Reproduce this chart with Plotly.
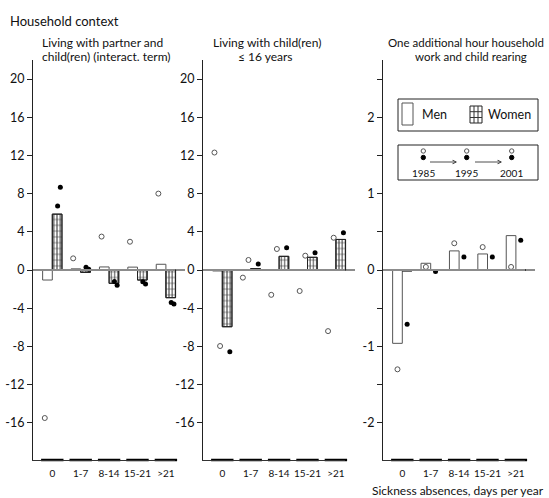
import plotly.graph_objects as go

W, H = 549, 498


def fx(p):
    return p / W


def fy(p):
    return 1 - p / H


# ---------------- data ----------------
categories = ["0", "1-7", "8-14", "15-21", ">21"]

# Panel 1: living with partner and child(ren) (interaction term)
p1_men = [-1.05, 0.12, 0.32, 0.30, 0.60]
p1_women = [5.85, -0.25, -1.40, -1.05, -2.90]
p1_open_a = [-15.5, 1.22, 3.50, 2.96, 8.00]
p1_filled_a = [6.70, 0.28, -1.20, -1.22, -3.40]
p1_filled_b = [8.66, 0.07, -1.60, -1.47, -3.55]

# Panel 2: living with child(ren) <= 16 years
p2_men = [-0.10, 0.03, 0.03, 0.03, 0.05]
p2_women = [-5.94, 0.15, 1.43, 1.33, 3.20]
p2_open_a = [12.3, -0.80, -2.60, -2.20, -6.40]
p2_open_b = [-7.96, 1.05, 2.20, 1.50, 3.38]
p2_filled = [-8.55, 0.63, 2.33, 1.80, 3.90]

# Panel 3: one additional hour household work and child rearing
p3_men = [-0.96, 0.088, 0.25, 0.21, 0.45]
p3_women = [-0.012, 0.0, 0.0, 0.0, 0.0]
p3_open = [-1.30, 0.04, 0.35, 0.30, 0.04]
p3_filled = [-0.71, -0.02, 0.17, 0.17, 0.39]

big_ticks = [-16, -12, -8, -4, 0, 4, 8, 12, 16, 20]
small_ticks = [-2, -1.5, -1, -0.5, 0, 0.5, 1, 1.5, 2, 2.5]
years = ["1985", "1995", "2001"]

# ---------------- layout geometry ----------------
FONT = "Lato"
axis_px = [33, 203, 383]
PANEL_W = 152
BOTTOM_W = 142
Y_TOP, Y_BOT, Y_ZERO = 60, 460, 270
CAT_PX = 28.4
FIRST_PX = 19.3
BARW = 0.34

x_lo = -FIRST_PX / CAT_PX
x_hi = (PANEL_W - FIRST_PX) / CAT_PX
x2_hi = (BOTTOM_W - FIRST_PX) / CAT_PX


def yrange(px_per_unit):
    return [(Y_ZERO - Y_BOT) / px_per_unit, (Y_ZERO - Y_TOP) / px_per_unit]


panels = [
    dict(men=p1_men, women=p1_women, pxu=9.55, ticks=big_ticks,
         pts=[(p1_open_a, "open", -0.265), (p1_filled_a, "fill", 0.187),
              (p1_filled_b, "fill", 0.283)]),
    dict(men=p2_men, women=p2_women, pxu=9.55, ticks=big_ticks,
         pts=[(p2_open_a, "open", -0.276), (p2_open_b, "open", -0.078),
              (p2_filled, "fill", 0.265)]),
    dict(men=p3_men, women=p3_women, pxu=76.4, ticks=small_ticks,
         pts=[(p3_open, "open", -0.17), (p3_filled, "fill", 0.17)]),
]

fig = go.Figure()
layout = dict(
    width=W, height=H, margin=dict(l=0, r=0, t=0, b=0),
    paper_bgcolor="white", plot_bgcolor="rgba(0,0,0,0)",
    barmode="overlay", showlegend=False,
    font=dict(family=FONT, size=12, color="#111"),
)

xs = list(range(len(categories)))
for k, P in enumerate(panels):
    n = k + 1
    nb = k + 4
    xa = "x" if n == 1 else f"x{n}"
    ya = "y" if n == 1 else f"y{n}"
    xb = f"x{nb}"
    yr = yrange(P["pxu"])

    # Men bars
    fig.add_trace(go.Bar(
        x=xs, y=P["men"], offset=-BARW, width=BARW, xaxis=xa, yaxis=ya,
        marker=dict(color="white", line=dict(color="#555555", width=1)),
    ))
    # Women bars: vertical hatch + horizontal hatch = grid
    fig.add_trace(go.Bar(
        x=xs, y=P["women"], offset=0, width=BARW, xaxis=xa, yaxis=ya,
        marker=dict(color="white", line=dict(color="#222222", width=1),
                    pattern=dict(shape="|", size=3.2, solidity=0.3,
                                 fgcolor="#333333", bgcolor="white",
                                 fillmode="replace")),
    ))
    fig.add_trace(go.Bar(
        x=xs, y=P["women"], offset=0, width=BARW, xaxis=xa, yaxis=ya,
        marker=dict(color="rgba(0,0,0,0)", line=dict(color="#222222", width=1),
                    pattern=dict(shape="-", size=5.8, solidity=0.18,
                                 fgcolor="#333333", fillmode="overlay")),
    ))
    # points
    for vals, kind, off in P["pts"]:
        if kind == "open":
            mk = dict(symbol="circle-open", size=5, color="#555555",
                      line=dict(width=1, color="#555555"))
        else:
            mk = dict(symbol="circle", size=5, color="black")
        fig.add_trace(go.Scatter(
            x=[i + off for i in xs], y=vals, mode="markers", marker=mk,
            xaxis=xa, yaxis=ya,
        ))
    # bottom category segments
    fig.add_trace(go.Scatter(
        x=xs, y=[yr[0]] * len(xs), mode="markers", xaxis=xb, yaxis=ya,
        marker=dict(symbol="line-ew", size=16,
                    line=dict(width=2.5, color="black")),
        cliponaxis=False,
    ))

    ticktext = []
    for t in P["ticks"]:
        if float(t).is_integer():
            ticktext.append(str(int(t)))
        else:
            ticktext.append("")

    layout["xaxis" if n == 1 else f"xaxis{n}"] = dict(
        domain=[fx(axis_px[k]), fx(axis_px[k] + PANEL_W)],
        range=[x_lo, x_hi], anchor=ya, visible=False, fixedrange=True,
    )
    layout[f"xaxis{nb}"] = dict(
        domain=[fx(axis_px[k]), fx(axis_px[k] + BOTTOM_W)],
        range=[x_lo, x2_hi], anchor=ya, showline=True, linecolor="#333333",
        linewidth=1, showgrid=False, zeroline=False,
        tickvals=xs, ticktext=categories, ticks="outside", ticklen=4,
        tickcolor="rgba(0,0,0,0)", tickfont=dict(size=10, color="#111"),
        fixedrange=True,
    )
    layout["yaxis" if n == 1 else f"yaxis{n}"] = dict(
        domain=[fy(Y_BOT), fy(Y_TOP)], range=yr, anchor=xa,
        showline=True, linecolor="#222222", linewidth=1,
        ticks="outside", ticklen=5, tickwidth=1, tickcolor="#222222",
        tickvals=P["ticks"], ticktext=ticktext,
        tickfont=dict(size=12.5, color="#111"),
        showgrid=False, zeroline=True, zerolinecolor="#8c8c8c",
        zerolinewidth=1.5, fixedrange=True,
    )

fig.update_layout(**layout)

# ---------------- texts ----------------
ann = []


def text(x, y, s, size=12, xanchor="center", yanchor="middle"):
    ann.append(dict(x=fx(x), y=fy(y), xref="paper", yref="paper", text=s,
                    showarrow=False, xanchor=xanchor, yanchor=yanchor,
                    font=dict(size=size, family=FONT, color="#111")))


text(8, 21, "Household context", size=13, xanchor="left")
text(102, 43, "Living with partner and")
text(106, 57, "child(ren) (interact. term)")
text(267, 43, "Living with child(ren)")
text(265, 57, "≤ 16 years")
text(466, 43, "One additional hour household", size=11.5)
text(471, 57, "work and child rearing", size=11.5)
text(546, 490, "Sickness absences, days per year", xanchor="right")

# legend box 1
shapes = []
LINE = dict(color="#222222", width=1)
shapes.append(dict(type="rect", xref="paper", yref="paper", x0=fx(398), x1=fx(538),
                   y0=fy(131), y1=fy(99), line=LINE, fillcolor="white"))
shapes.append(dict(type="rect", xref="paper", yref="paper", x0=fx(402), x1=fx(413),
                   y0=fy(125), y1=fy(103), line=dict(color="#555555", width=1)))
text(420, 115, "Men", size=12.5, xanchor="left")
shapes.append(dict(type="rect", xref="paper", yref="paper", x0=fx(470), x1=fx(482),
                   y0=fy(123), y1=fy(106), line=LINE))
for gx in (474, 478):
    shapes.append(dict(type="line", xref="paper", yref="paper", x0=fx(gx), x1=fx(gx),
                       y0=fy(123), y1=fy(106), line=dict(color="#333333", width=1)))
for gy in (111.7, 117.5):
    shapes.append(dict(type="line", xref="paper", yref="paper", x0=fx(470), x1=fx(482),
                       y0=fy(gy), y1=fy(gy), line=dict(color="#333333", width=1)))
text(486, 115, "Women", size=12.5, xanchor="left")

# legend box 2
shapes.append(dict(type="rect", xref="paper", yref="paper", x0=fx(398), x1=fx(538),
                   y0=fy(180), y1=fy(145), line=LINE, fillcolor="white"))
yr_x = [423.3, 466.7, 511.7]
for xc, yl in zip(yr_x, years):
    r = 2.2
    shapes.append(dict(type="circle", xref="paper", yref="paper",
                       x0=fx(xc - r), x1=fx(xc + r), y0=fy(151 + r), y1=fy(151 - r),
                       line=dict(color="#555555", width=1), fillcolor="white"))
    shapes.append(dict(type="circle", xref="paper", yref="paper",
                       x0=fx(xc - r), x1=fx(xc + r), y0=fy(157.5 + r), y1=fy(157.5 - r),
                       line=dict(color="black", width=1), fillcolor="black"))
    text(xc, 173, yl, size=10)
for x0, x1 in ((428.5, 457), (473.5, 502)):
    ann.append(dict(x=fx(x1), y=fy(162), xref="paper", yref="paper",
                    ax=x0 - x1, ay=0, axref="pixel", ayref="pixel", text="",
                    showarrow=True, arrowhead=5, arrowsize=0.9, arrowwidth=0.8,
                    arrowcolor="#222222"))

fig.update_layout(annotations=ann, shapes=shapes)
fig.write_html("out.html")
